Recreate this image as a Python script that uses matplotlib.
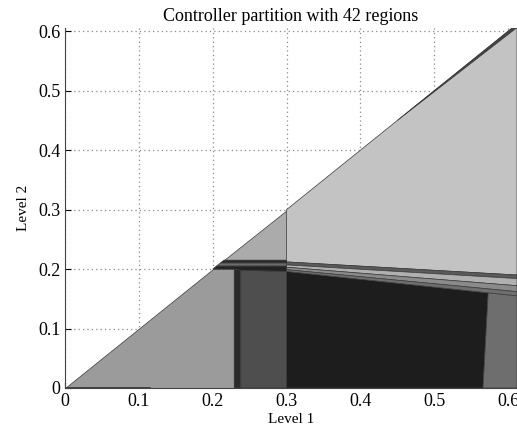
import numpy as np
import matplotlib
matplotlib.use("Agg")
import matplotlib.pyplot as plt
from matplotlib.patches import Polygon

# partition regions (Level 1, Level 2 vertices)
left_tri = [(0, 0), (0.229, 0), (0.229, 0.200), (0.200, 0.200)]
strip_a = [(0.229, 0), (0.238, 0), (0.238, 0.199), (0.229, 0.200)]
strip_b = [(0.238, 0), (0.300, 0), (0.300, 0.196), (0.238, 0.198)]
dark_blk = [(0.300, 0), (0.566, 0), (0.573, 0.160), (0.300, 0.196)]
right_gr = [(0.566, 0), (0.612, 0), (0.612, 0.155), (0.573, 0.160)]
upper_tri = [(0.215, 0.215), (0.300, 0.215), (0.300, 0.300)]
big_light = [(0.300, 0.212), (0.300, 0.300), (0.612, 0.612), (0.612, 0.190)]
band_1 = [(0.300, 0.212), (0.612, 0.190), (0.612, 0.184), (0.300, 0.207)]
band_2 = [(0.300, 0.207), (0.612, 0.184), (0.612, 0.172), (0.300, 0.203)]
band_3 = [(0.300, 0.203), (0.612, 0.172), (0.612, 0.162), (0.300, 0.199)]
band_4 = [(0.300, 0.199), (0.612, 0.162), (0.612, 0.155), (0.573, 0.160), (0.300, 0.196)]
lband_1 = [(0.210, 0.210), (0.215, 0.215), (0.300, 0.215), (0.300, 0.210)]
lband_2 = [(0.205, 0.205), (0.210, 0.210), (0.300, 0.210), (0.300, 0.205)]
lband_3 = [(0.200, 0.200), (0.205, 0.205), (0.300, 0.205), (0.300, 0.196), (0.238, 0.198), (0.229, 0.200)]
diag_sliver = [(0.45, 0.45), (0.612, 0.612), (0.612, 0.606)]
bottom_sliver = [(0, 0), (0.115, 0), (0.115, 0.0025), (0.0025, 0.0025)]

regions = [left_tri, strip_a, strip_b, dark_blk, right_gr, upper_tri, big_light,
           band_1, band_2, band_3, band_4, lband_1, lband_2, lband_3,
           diag_sliver, bottom_sliver]
shades = ['#9b9b9b', '#2a2a2a', '#4e4e4e', '#1d1d1d', '#6e6e6e', '#ababab', '#c3c3c3',
          '#5a5a5a', '#b0b0b0', '#8a8a8a', '#6e6e6e', '#2c2c2c', '#6c6c6c', '#222222',
          '#444444', '#111111']

ticks = [0, 0.1, 0.2, 0.3, 0.4, 0.5, 0.6]
tick_labels = ['0', '0.1', '0.2', '0.3', '0.4', '0.5', '0.6']

plt.rcParams['font.family'] = ['Liberation Serif', 'DejaVu Serif']

fig = plt.figure(figsize=(5.17, 4.34), dpi=100)
ax = fig.add_axes([0.126, 0.106, 0.874, 0.829])

for verts, c in zip(regions, shades):
    ax.add_patch(Polygon(verts, closed=True, facecolor=c, edgecolor='#3a3a3a',
                         linewidth=0.5, zorder=2))

ax.set_xlim(0, 0.612)
ax.set_ylim(0, 0.605)
ax.set_xticks(ticks)
ax.set_xticklabels(tick_labels)
ax.set_yticks(ticks)
ax.set_yticklabels(tick_labels)
ax.tick_params(direction='in', length=4, labelsize=13, width=0.8)
ax.set_axisbelow(True)
ax.grid(True, linestyle=(0, (1, 2.5)), color='#888888', linewidth=0.9)
ax.spines['top'].set_visible(False)
ax.spines['right'].set_visible(False)
ax.spines['left'].set_color('#444444')
ax.spines['bottom'].set_color('#444444')

ax.set_xlabel('Level 1', fontsize=11, labelpad=2)
ax.set_ylabel('Level 2', fontsize=11, labelpad=6)
ax.set_title('Controller partition with 42 regions', fontsize=13, pad=5)

fig.savefig('out.png', dpi=100)
